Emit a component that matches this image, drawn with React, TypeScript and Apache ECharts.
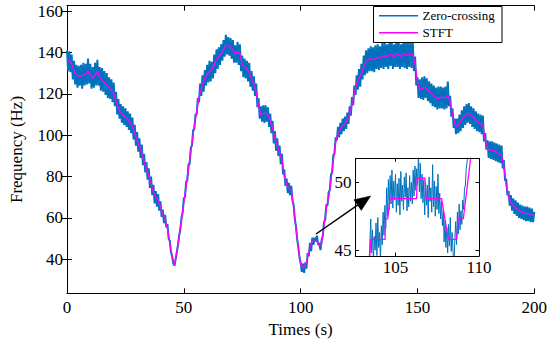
import React, { useEffect, useRef } from "react";
import * as echarts from "echarts";

// ---- data ----
const xTicks = [0, 50, 100, 150, 200];
const yTicks = [40, 60, 80, 100, 120, 140, 160];
const insetXTicks = [105, 110];
const insetYTicks = [45, 50];

// Zero-crossing estimate, sampled every 0.5 s from 0 to 200 s
const zcStart = 0;
const zcStep = 0.5;
const zeroCrossing = [
  141, 131, 140.5, 130.5, 139, 127, 136, 124.5, 134, 123, 133.5, 124, 134, 122.5, 135, 124, 134.5, 124.5, 137, 125,
  134.5, 122.5, 133, 123, 135, 124, 136.5, 124, 133, 121.5, 132.5, 121, 131, 119.5, 130, 118, 128, 117.5, 127, 116,
  125.5, 114, 121, 110, 117.5, 108, 115, 106, 114, 105, 113, 104, 111.5, 102.5, 110.5, 101, 108.5, 98, 105, 95,
  101.5, 92, 98.5, 89, 95.5, 85.5, 91, 82, 87, 78.5, 84, 74.5, 80, 71, 76, 67, 73, 65.5, 71.5, 63.5,
  68, 60.5, 64, 57.5, 61.5, 55.5, 57, 50, 49, 43.5, 41.5, 38, 37, 40, 43.5, 47, 51.5, 54.5, 60, 62.5,
  69.5, 70, 77.5, 78, 86, 86, 94, 95, 102.5, 103, 110, 110, 118, 116, 125, 119, 129, 121, 131.5, 124,
  134, 125.5, 136, 126, 135.5, 127.5, 139, 130, 141.5, 132, 142.5, 134, 144, 136, 146, 138, 148.5, 139, 147.5, 138.5,
  147, 137, 146, 135, 143.5, 135, 145, 134, 144, 131, 138.5, 128, 137, 127.5, 136, 126, 135, 123.5, 131, 121.5,
  128.5, 119, 125, 113.5, 118, 108, 114, 106.5, 114.5, 106, 114.5, 106.5, 113.5, 104, 110.5, 101, 107, 96, 102, 92.5,
  98.5, 90, 95, 86, 91, 81, 83.5, 75.5, 79, 72, 77, 71, 75.5, 68.5, 66.5, 59.5, 56, 50, 46, 41,
  38.5, 34, 38, 33.5, 38.5, 35.5, 43, 41.5, 48, 44, 50.5, 47, 50.5, 48.5, 51.5, 47, 48, 44.5, 49.5, 51.5,
  58, 59, 66.5, 66, 72.5, 73.5, 81, 82, 90.5, 91, 99, 97.5, 104, 99, 106, 100.5, 108, 102, 109, 103,
  111, 105.5, 114, 109.5, 118.5, 114.5, 124, 119.5, 129, 122, 132, 123.5, 134.5, 127, 138.5, 129, 141, 130, 142, 131,
  143, 131, 142.5, 130.5, 143.5, 132, 144, 131.5, 143, 132.5, 145, 132, 144.5, 133, 144, 132, 145.5, 133.5, 145, 132,
  144, 133, 146, 133, 145, 132, 144, 133, 145.5, 132.5, 145, 132, 144.5, 133, 145, 132.5, 145, 131, 138, 124,
  128, 118, 127, 117.5, 128, 117, 128.5, 118, 127.5, 116.5, 126, 115.5, 125, 114, 124, 113.5, 123, 112.5, 123.5, 113,
  123.5, 113, 123, 112.5, 123.5, 113, 126, 114, 119, 109, 113, 103.5, 108, 100.5, 108, 101, 110, 102, 112, 103.5,
  114, 105, 115, 106, 115.5, 105.5, 114, 104, 113, 103, 111.5, 102, 110.5, 101.5, 110, 100.5, 109.5, 97, 101, 93,
  97.5, 89, 97, 88.5, 97, 88, 96.5, 87.5, 96, 87, 95.5, 86.5, 95, 84, 88, 78, 79, 71, 73, 66,
  71, 63.5, 69.5, 62, 68.5, 61, 67.5, 60, 66.5, 59.5, 66, 59, 65.5, 58.5, 65.5, 58.5, 65, 58, 64.5, 58, 63,
];

// STFT estimate, sampled every 1 s from 0 to 200 s
const stftStart = 0;
const stftStep = 1;
const stft = [
  136.5, 136, 134.5, 131, 129, 128.5, 128.5, 129, 129.5, 131,
  129, 127.5, 129, 131, 128, 126.5, 125.5, 124.3, 123, 121.8,
  120.5, 116.5, 113, 111, 109.8, 108.7, 107.5, 106.3, 104.3, 101,
  97.5, 94.7, 91.5, 87.5, 83.5, 80.3, 76.5, 72.5, 69.8, 68.5,
  65.5, 61.8, 59.3, 55, 48, 41.5, 37, 43.5, 51, 59,
  67.5, 75.5, 83.5, 92, 100.5, 108, 115, 121, 124.5, 127.5,
  129.5, 130.7, 131.5, 134, 136.7, 137.8, 139.3, 141.3, 143.6, 143.3,
  142.5, 141.3, 139, 140.5, 139.5, 134, 132.6, 132, 130.5, 127,
  124.5, 121, 114, 110, 110.5, 110.6, 110, 107, 103.5, 98.5,
  95, 91.5, 88, 80.5, 76, 74.3, 73.5, 65.5, 55, 45.5,
  37.5, 36, 36.8, 41, 45.8, 48.8, 48.8, 48.8, 46.5, 47.5,
  56.5, 64.5, 70, 78.5, 88, 96.8, 100.8, 103, 104.5, 105.7,
  107.5, 110.5, 115, 120.5, 125, 127.7, 129.7, 133, 135.5, 136.5,
  137, 136.5, 137, 137.8, 137.2, 138.2, 138.5, 138, 139, 139,
  137.8, 139.5, 138.8, 138, 139.3, 139, 138.7, 139, 139.5, 134,
  126, 122, 122.5, 123.2, 122.5, 121, 120.2, 119, 118, 117.8,
  118.4, 118, 118.3, 119.2, 116, 110, 105.7, 104, 105.5, 107.5,
  109, 110.3, 110.6, 109.7, 108.5, 107, 106.3, 105.5, 104.8, 98,
  93.5, 92.8, 92.8, 92.3, 91.6, 91, 90.4, 85, 76, 70,
  67.5, 66, 64.8, 64, 63.2, 62.8, 62.3, 62.2, 61.8, 61.5, 61.4,
];

// Inset (zoom of 103-110 s): zero-crossing sampled finely
const insetZcStart = 103.3;
const insetZcStep = 0.053;
const insetZc = [
  43.5, 44.0, 43.8, 45.5, 47.3, 44.8, 46.5, 44.2, 46.0, 45.0, 47.0, 44.6, 47.4, 45.2, 46.3, 44.3, 46.8, 45.4, 47.8, 46.1,
  48.3, 46.6, 49.6, 47.5, 50.2, 48.0, 50.5, 48.4, 50.9, 48.1, 50.1, 48.7, 50.6, 47.8, 49.9, 48.3, 50.3, 47.6, 50.8, 48.6,
  49.8, 48.0, 50.4, 48.9, 50.7, 47.9, 49.6, 48.2, 50.5, 48.6, 50.0, 48.4, 50.9, 49.0, 51.2, 49.4, 51.0, 49.8, 52.2, 49.3,
  51.4, 48.8, 50.6, 48.5, 50.2, 47.6, 50.0, 48.3, 49.8, 47.4, 50.4, 48.6, 49.6, 47.8, 51.3, 48.2, 50.1, 47.5, 49.7, 48.0,
  50.6, 47.7, 49.2, 47.3, 48.6, 46.8, 47.9, 45.6, 47.2, 45.2, 46.7, 44.8, 46.9, 45.3, 47.4, 44.9, 46.3, 45.0, 43.8, 45.6,
  47.1, 45.4, 47.8, 46.2, 48.4, 46.5, 47.9, 46.9, 48.7, 48.0, 49.5, 49.8, 51.0, 51.5, 52.5, 53.0, 54.0,
];
// Inset STFT staircase
const insetStftT = [103.45, 103.51, 104.37, 104.4, 104.53, 104.67, 106.26, 106.3, 106.76, 106.82, 107.76, 107.96, 108.16, 108.66, 108.75, 109.06, 109.55];
const insetStftV = [44.3, 45.8, 45.8, 47.3, 47.3, 48.8, 48.8, 50.3, 50.3, 48.8, 48.8, 47.3, 45.8, 45.8, 47.3, 47.3, 52.3];

const FONT = "Liberation Serif";
const BLUE = "#0072BD";
const MAGENTA = "#FF00FF";

function sampled(values: number[], start: number, step: number) {
  return values.map((v, i) => [start + i * step, v]);
}

export default function App() {
  const ref = useRef<HTMLDivElement>(null);

  useEffect(() => {
    if (!ref.current) return;
    const chart = echarts.init(ref.current, undefined, { renderer: "svg" });

    const lbl = { fontFamily: FONT, fontSize: 17, color: "#000" };
    const line = { show: true, lineStyle: { color: "#000", width: 1 } };

    const mainX = (pos: "bottom" | "top", labels: boolean) => ({
      type: "value",
      gridIndex: 0,
      position: pos,
      min: xTicks[0],
      max: xTicks[xTicks.length - 1],
      interval: 50,
      axisLine: line,
      axisTick: { show: true, inside: true, length: 5, lineStyle: { color: "#000" } },
      axisLabel: { show: labels, margin: 6, ...lbl },
      splitLine: { show: false },
      ...(labels
        ? { name: "Times (s)", nameLocation: "middle", nameGap: 28, nameTextStyle: lbl }
        : {}),
    });
    const mainY = (pos: "left" | "right", labels: boolean) => ({
      type: "value",
      gridIndex: 0,
      position: pos,
      min: 23.6,
      max: 162.6,
      axisLine: line,
      axisTick: { show: true, inside: true, length: 5, customValues: yTicks, lineStyle: { color: "#000" } },
      axisLabel: { show: labels, margin: 4, customValues: yTicks, ...lbl },
      splitLine: { show: false },
      ...(labels
        ? { name: "Frequency (Hz)", nameLocation: "middle", nameGap: 42, nameRotate: 90, nameTextStyle: lbl }
        : {}),
    });
    const insetX = (pos: "bottom" | "top", labels: boolean) => ({
      type: "value",
      gridIndex: 1,
      position: pos,
      min: 102.6,
      max: 110,
      z: 7,
      axisLine: line,
      axisTick: { show: true, inside: true, length: 3.5, customValues: insetXTicks, lineStyle: { color: "#000" } },
      axisLabel: { show: labels, margin: 3, customValues: insetXTicks, ...lbl },
      splitLine: { show: false },
    });
    const insetY = (pos: "left" | "right", labels: boolean) => ({
      type: "value",
      gridIndex: 1,
      position: pos,
      min: 44.57,
      max: 51.77,
      z: 7,
      axisLine: line,
      axisTick: { show: true, inside: true, length: 3.5, customValues: insetYTicks, lineStyle: { color: "#000" } },
      axisLabel: { show: labels, margin: 4, customValues: insetYTicks, ...lbl },
      splitLine: { show: false },
    });

    chart.setOption({
      animation: false,
      backgroundColor: "#fff",
      textStyle: { fontFamily: FONT },
      grid: [
        { left: 57.5, top: 5.7, width: 477, height: 287.6, show: false },
        { left: 355.5, top: 158.3, width: 123.5, height: 97.7, show: true, backgroundColor: "#fff", borderWidth: 0, z: 5 },
      ],
      xAxis: [mainX("bottom", true), mainX("top", false), insetX("bottom", true), insetX("top", false)],
      yAxis: [mainY("left", true), mainY("right", false), insetY("left", true), insetY("right", false)],
      series: [
        {
          name: "Zero-crossing",
          type: "line",
          xAxisIndex: 0,
          yAxisIndex: 0,
          data: sampled(zeroCrossing, zcStart, zcStep),
          showSymbol: false,
          symbol: "none",
          lineStyle: { color: BLUE, width: 2 },
          z: 2,
        },
        {
          name: "STFT",
          type: "line",
          xAxisIndex: 0,
          yAxisIndex: 0,
          data: sampled(stft, stftStart, stftStep),
          showSymbol: false,
          symbol: "none",
          lineStyle: { color: MAGENTA, width: 1.3 },
          z: 3,
        },
        {
          name: "Zero-crossing (inset)",
          type: "line",
          xAxisIndex: 2,
          yAxisIndex: 2,
          data: sampled(insetZc, insetZcStart, insetZcStep),
          showSymbol: false,
          symbol: "none",
          clip: true,
          lineStyle: { color: BLUE, width: 1 },
          z: 6,
        },
        {
          name: "STFT (inset)",
          type: "line",
          xAxisIndex: 2,
          yAxisIndex: 2,
          data: insetStftT.map((t, i) => [t, insetStftV[i]]),
          showSymbol: false,
          symbol: "none",
          clip: true,
          lineStyle: { color: MAGENTA, width: 1.3 },
          z: 6,
        },
      ],
      graphic: [
        {
          type: "rect",
          z: 100,
          shape: { x: 373.5, y: 6.5, width: 128.5, height: 36 },
          style: { fill: "#fff", stroke: "#000", lineWidth: 1 },
        },
        { type: "line", z: 101, shape: { x1: 379, y1: 15.7, x2: 418, y2: 15.7 }, style: { stroke: BLUE, lineWidth: 1.5 } },
        { type: "line", z: 101, shape: { x1: 379, y1: 32.7, x2: 418, y2: 32.7 }, style: { stroke: MAGENTA, lineWidth: 1.5 } },
        {
          type: "text",
          z: 101,
          x: 422.5,
          y: 15.7,
          style: { text: "Zero-crossing", fontFamily: FONT, fontSize: 13, fill: "#000", align: "left", verticalAlign: "middle" },
        },
        {
          type: "text",
          z: 101,
          x: 422.5,
          y: 32.7,
          style: { text: "STFT", fontFamily: FONT, fontSize: 13, fill: "#000", align: "left", verticalAlign: "middle" },
        },
        {
          type: "line",
          z: 101,
          shape: { x1: 316, y1: 234, x2: 359, y2: 204.2 },
          style: { stroke: "#000", lineWidth: 1.5 },
        },
        {
          type: "polygon",
          z: 101,
          shape: { points: [[370.7, 196], [361.3, 210.4], [353.9, 199.8]] },
          style: { fill: "#000", stroke: "#000", lineWidth: 0.5 },
        },
      ],
    });

    return () => chart.dispose();
  }, []);

  return (
    <div
      ref={ref}
      style={{ position: "fixed", left: 0, top: 0, width: 550, height: 346, background: "#fff" }}
    />
  );
}
